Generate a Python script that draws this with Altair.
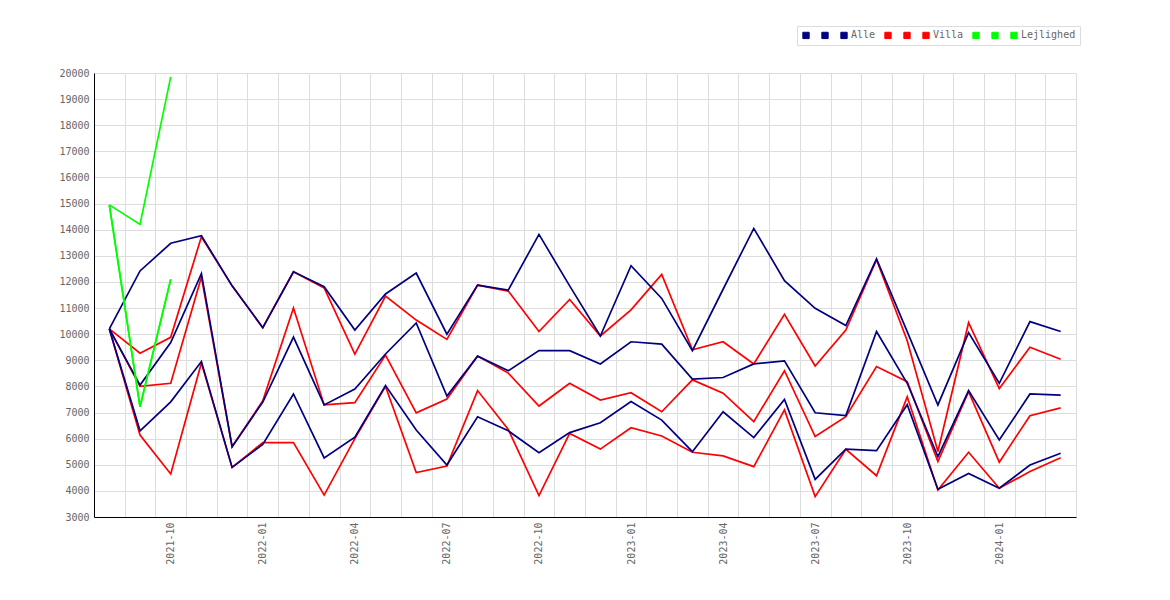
import altair as alt
import pandas as pd

months = [
    "2021-08", "2021-09", "2021-10", "2021-11", "2021-12",
    "2022-01", "2022-02", "2022-03", "2022-04", "2022-05", "2022-06",
    "2022-07", "2022-08", "2022-09", "2022-10", "2022-11", "2022-12",
    "2023-01", "2023-02", "2023-03", "2023-04", "2023-05", "2023-06",
    "2023-07", "2023-08", "2023-09", "2023-10", "2023-11", "2023-12",
    "2024-01", "2024-02", "2024-03",
]

alle_high = [10200, 12420, 13480, 13770, 11850, 10250, 12390, 11820, 10160, 11540, 12340, 10000,
             11880, 11690, 13820, 11850, 9930, 12620, 11370, 9370, 11720, 14050, 12050, 10990,
             10330, 12880, 10100, 7290, 10060, 8120, 10480, 10100]
alle_mid = [10200, 8050, 9680, 12320, 5690, 7400, 9890, 7290, 7900, 9240, 10430, 7630,
            9160, 8600, 9370, 9370, 8860, 9710, 9620, 8280, 8340, 8860, 8980, 6990,
            6880, 10100, 8120, 5310, 7840, 5950, 7710, 7670]
alle_low = [10200, 6300, 7410, 8950, 4900, 5780, 7710, 5260, 6060, 8030, 6330, 4990,
            6840, 6300, 5460, 6230, 6610, 7420, 6710, 5500, 7030, 6040, 7500, 4440,
            5600, 5540, 7300, 4060, 4670, 4100, 4990, 5440]

villa_high = [10200, 9270, 9880, 13730, 11850, 10250, 12390, 11770, 9240, 11460, 10540, 9800,
              11880, 11650, 10100, 11330, 9930, 10930, 12290, 9400, 9710, 8860, 10760, 8780,
              10160, 12850, 9750, 5510, 10440, 7920, 9500, 9040]
villa_mid = [10200, 8000, 8120, 12190, 5690, 7450, 11000, 7290, 7380, 9200, 6990, 7520,
             9160, 8510, 7250, 8120, 7480, 7760, 7030, 8250, 7740, 6650, 8600, 6080,
             6840, 8760, 8180, 5120, 7800, 5100, 6880, 7180]
villa_low = [10200, 6140, 4650, 8900, 4900, 5850, 5850, 3840, 6000, 8000, 4700, 4950,
             7840, 6350, 3820, 6200, 5600, 6420, 6100, 5480, 5340, 4930, 7100, 3780,
             5590, 4580, 7600, 4030, 5480, 4100, 4740, 5270]

lejl_high = [14950, 14200, 19850]
lejl_mid = [14950, 7220, 12100]
lejl_low = [14950, 7220, 12100]

series_names = ["Alle_a", "Alle_b", "Alle", "Villa_a", "Villa_b", "Villa",
                "Lejlighed_a", "Lejlighed_b", "Lejlighed"]
series_colors = ["#000080", "#000080", "#000080", "#ff0000", "#ff0000", "#ff0000",
                 "#00ff00", "#00ff00", "#00ff00"]
series_values = [alle_high, alle_mid, alle_low, villa_high, villa_mid, villa_low,
                 lejl_high, lejl_mid, lejl_low]

rows = []
for name, vals in zip(series_names, series_values):
    for m, v in zip(months, vals):
        rows.append({"month": m, "value": v, "series": name})
df = pd.DataFrame(rows)

FONT = "DejaVu Sans Mono"

x_enc = alt.X(
    "month:O",
    scale=alt.Scale(type="band", domain=months, paddingInner=0, paddingOuter=0),
    axis=alt.Axis(
        title=None,
        labelAngle=270,
        labelExpr="isValid(datum.value) && indexof(['01','04','07','10'], slice('' + datum.value, 5)) >= 0 ? '' + datum.value : ''",
        tickBand="extent",
        ticks=False,
        grid=True,
        gridColor="#dddddd",
        domainColor="#000000",
        labelPadding=5,
    ),
)
y_enc = alt.Y(
    "value:Q",
    scale=alt.Scale(domain=[3000, 20000], nice=False, zero=False),
    axis=alt.Axis(
        title=None,
        values=list(range(3000, 20001, 1000)),
        format="d",
        ticks=False,
        grid=True,
        gridColor="#dddddd",
        domainColor="#000000",
        labelPadding=5,
    ),
)
color_enc = alt.Color(
    "series:N",
    scale=alt.Scale(domain=series_names, range=series_colors),
    legend=alt.Legend(
        title=None,
        orient="none",
        legendX=703,
        legendY=-47,
        direction="horizontal",
        symbolType="square",
        symbolSize=40,
        symbolStrokeColor="#555555",
        symbolStrokeWidth=1,
        symbolOpacity=1,
        labelOffset=2,
        columnPadding=6,
        padding=4,
        strokeColor="#dddddd",
        labelExpr="indexof('' + datum.label, '_') >= 0 ? ' ' : '' + datum.label",
    ),
)

# invisible filled squares so that the legend symbols are filled squares
keys = alt.Chart(df).mark_square(filled=True, opacity=0, size=1).encode(
    x=x_enc, y=y_enc, color=color_enc
)

villa_part = alt.Chart(df).transform_filter(
    "indexof(datum.series, 'Villa') == 0"
).mark_line(strokeWidth=1.7).encode(x=x_enc, y=y_enc, color=color_enc)
alle_part = alt.Chart(df).transform_filter(
    "indexof(datum.series, 'Alle') == 0"
).mark_line(strokeWidth=1.7).encode(x=x_enc, y=y_enc, color=color_enc)
lejl_part = alt.Chart(df).transform_filter(
    "indexof(datum.series, 'Lejlighed') == 0"
).mark_line(strokeWidth=1.7).encode(x=x_enc, y=y_enc, color=color_enc)

chart = alt.layer(keys, villa_part, alle_part, lejl_part).properties(
    width=982,
    height=444,
    autosize=alt.AutoSizeParams(type="none"),
    padding={"left": 86, "top": 65, "right": 80, "bottom": 70},
).configure_view(stroke=None).configure_axis(
    labelFont=FONT, labelFontSize=10, labelColor="#666666"
).configure_legend(
    labelFont=FONT, labelFontSize=10, labelColor="#666666"
)

chart.save("out.html", embed_options={"renderer": "svg", "actions": False})
